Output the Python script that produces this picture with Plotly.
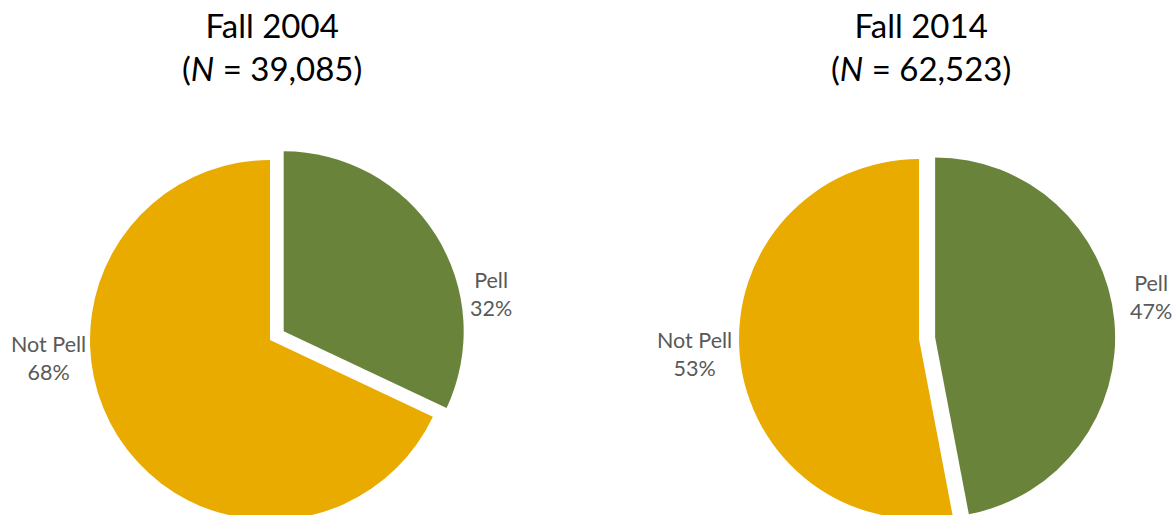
import plotly.graph_objects as go

# Share of students receiving Pell grants, by cohort
groups = ["Pell", "Not Pell"]
share_2004 = [32, 68]
share_2014 = [47, 53]
titles = ["Fall 2004<br>(<i>N</i> = 39,085)", "Fall 2014<br>(<i>N</i> = 62,523)"]

GREEN = "#6A833B"
GOLD = "#EAAB00"
LABEL_GRAY = "#595959"
FONT = "Lato"

W, H = 1175, 600           # taller than the view so the pies run off the bottom
PULL = 0.09
RADIUS = 180


def fx(px):
    return px / W


def fy(py):
    return 1 - py / H


fig = go.Figure()


def add_pie(values, cx, cy, label_pos):
    half = RADIUS * (1 + PULL)
    fig.add_trace(go.Pie(
        labels=groups,
        values=values,
        sort=False,
        direction="clockwise",
        rotation=0,
        pull=[PULL, 0],
        marker=dict(colors=[GREEN, GOLD], line=dict(width=0)),
        textinfo="none",
        domain=dict(x=[fx(cx - half), fx(cx + half)],
                    y=[fy(cy + half), fy(cy - half)]),
        showlegend=False,
        hoverinfo="label+percent",
    ))
    # data labels: category name and share
    for g, v, (lx, ly) in zip(groups, values, label_pos):
        fig.add_annotation(
            x=fx(lx), y=fy(ly), xref="paper", yref="paper",
            xanchor="center", yanchor="middle",
            text=f"{g}<br>{v}%", showarrow=False, align="center",
            font=dict(family=FONT, size=21.5, color=LABEL_GRAY),
        )


add_pie(share_2004, 270, 340, [(491, 294), (48.5, 358)])
add_pie(share_2014, 919, 339, [(1151, 297), (694.5, 354)])

for x_c, txt in zip([272, 921], titles):
    fig.add_annotation(
        x=fx(x_c), y=fy(3), xref="paper", yref="paper",
        xanchor="center", yanchor="top",
        text=txt, showarrow=False,
        font=dict(family=FONT, size=33, color="#000000"),
    )

fig.update_layout(
    width=W, height=H,
    margin=dict(l=0, r=0, t=0, b=0),
    paper_bgcolor="white",
    plot_bgcolor="white",
)

fig.write_html(
    "out.html",
    post_script=(
        "document.documentElement.style.overflow='hidden';"
        "document.body.style.margin='0';"
        "document.body.style.overflow='hidden';"
    ),
)
